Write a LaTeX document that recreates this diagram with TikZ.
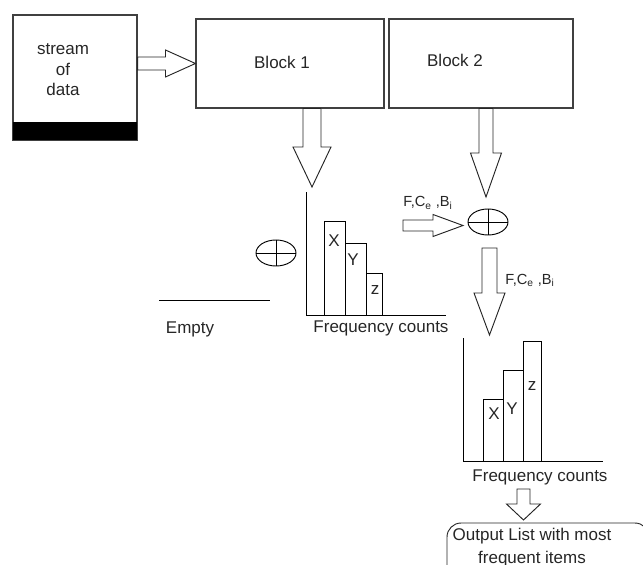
\documentclass[tikz,border=0pt]{standalone}
\usepackage{fontspec}
\setmainfont{Liberation Sans}
\usetikzlibrary{calc,shapes.geometric}

% hollow block arrows: start, tip, shaft half width, head half width, head length
\newcommand{\fatdown}[5]{%
  \draw[fat] ($(#1)+(-#3,0)$) -- ($(#2)+(-#3,-#5)$) -- ($(#2)+(-#4,-#5)$) -- (#2)
    -- ($(#2)+(#4,-#5)$) -- ($(#2)+(#3,-#5)$) -- ($(#1)+(#3,0)$) -- cycle;}
\newcommand{\fatright}[5]{%
  \draw[fat] ($(#1)+(0,-#3)$) -- ($(#2)+(-#5,-#3)$) -- ($(#2)+(-#5,-#4)$) -- (#2)
    -- ($(#2)+(-#5,#4)$) -- ($(#2)+(-#5,#3)$) -- ($(#1)+(0,#3)$) -- cycle;}

\begin{document}
\begin{tikzpicture}[
    x=0.03cm, y=-0.03cm,
    font=\fontsize{14.5}{17}\selectfont,
    line width=0.8pt,
    fat/.style={draw=black!85, line width=0.8pt, fill=white},
    block/.style={draw=black!75, line width=0.9pt, inner sep=0pt},
    oplus/.style={draw, ellipse, inner sep=0pt, minimum width=1.2cm, minimum height=0.78cm},
    txt/.style={anchor=base, inner sep=0pt, text=black!85},
    barlabel/.style={inner sep=0pt, text=black!85},
    small/.style={anchor=base, inner sep=0pt, text=black!85, font=\fontsize{12.5}{15}\selectfont}
]
\useasboundingbox (0,0) rectangle (643,565);
\clip (0,0) rectangle (643,565);

% source and blocks
\node[block, minimum width=3.72cm, minimum height=3.75cm] (stream) at (75,77.5) {};
\fill (13,122) rectangle (137,140);
\node[anchor=base, align=center, inner sep=0pt, text=black!85, font=\fontsize{14.5}{17.5}\selectfont] (streamtext) at (63,96) {stream\\of\\data};
\node[block, minimum width=5.64cm, minimum height=2.67cm] (block1) at (290,63.5) {};
\node[block, minimum width=5.52cm, minimum height=2.67cm] (block2) at (481,63.5) {};
\node[txt] (b1text) at (282,69) {Block 1};
\node[txt] (b2text) at (455,67) {Block 2};

% merge symbols
\node[oplus] (o1) at (276,253) {};
\draw (o1.north) -- (o1.south) (o1.west) -- (o1.east);
\node[oplus] (o2) at (488,222) {};
\draw (o2.north) -- (o2.south) (o2.west) -- (o2.east);

% empty slot
\draw (159,300) -- (270,300);
\node[txt] (empty) at (190,333) {Empty};

% first histogram
\draw (306,192) -- (306,315) -- (446,315);
\draw (324,315) rectangle (345,221);
\draw (345,315) rectangle (366,243);
\draw (366,315) rectangle (382,273);
\node[barlabel] (x1) at (334,241) {X};
\node[barlabel] (y1) at (353,260) {Y};
\node[barlabel] (z1) at (375,290) {z};
\node[txt] (freq1) at (381,332) {Frequency counts};

% second histogram
\draw (463,338) -- (463,461) -- (603,461);
\draw (483,461) rectangle (503,399);
\draw (503,461) rectangle (523,370);
\draw (523,461) rectangle (541,341);
\node[barlabel] (x2) at (494,414) {X};
\node[barlabel] (y2) at (512,409) {Y};
\node[barlabel] (z2) at (532,386) {z};
\node[txt] (freq2) at (540,481) {Frequency counts};

% output
\draw[black!85, rounded corners=12] (447,600) -- (447,523) -- (649,523) -- (649,600);
\node[anchor=base, align=center, inner sep=0pt, text=black!85, font=\fontsize{14.5}{19}\selectfont] (outtext) at (532,563) {Output List with most\\frequent items};

% labels on the side arrows
\node[small] (lab1) at (428,207) {F,C\textsubscript{e} ,B\textsubscript{i}};
\node[small] (lab2) at (530,284) {F,C\textsubscript{e} ,B\textsubscript{i}};

% arrow ends
\coordinate (s1) at (stream.east |- block1.west);
\coordinate (h1tip) at (312,187);
\coordinate (b1out) at (block1.south -| h1tip);
\coordinate (b2tip) at (486,197);
\coordinate (b2out) at (block2.south -| b2tip);
\coordinate (fin) at (403,225.5);
\coordinate (o2in) at (463,225.5);
\coordinate (o2out) at (489.5,248);
\coordinate (h2tip) at (489.5,335);
\coordinate (f2out) at (523.5,489);
\coordinate (outtip) at (523.5,520);

% block arrows
\fatright{s1}{block1.west}{6.5}{13.5}{30}
\fatdown{b1out}{h1tip}{9}{19}{40}
\fatdown{b2out}{b2tip}{7}{15.5}{44}
\fatright{fin}{o2in}{5.5}{11}{30}
\fatdown{o2out}{h2tip}{7.5}{15.5}{42}
\fatdown{f2out}{outtip}{6.5}{17}{16}

\end{tikzpicture}
\end{document}
